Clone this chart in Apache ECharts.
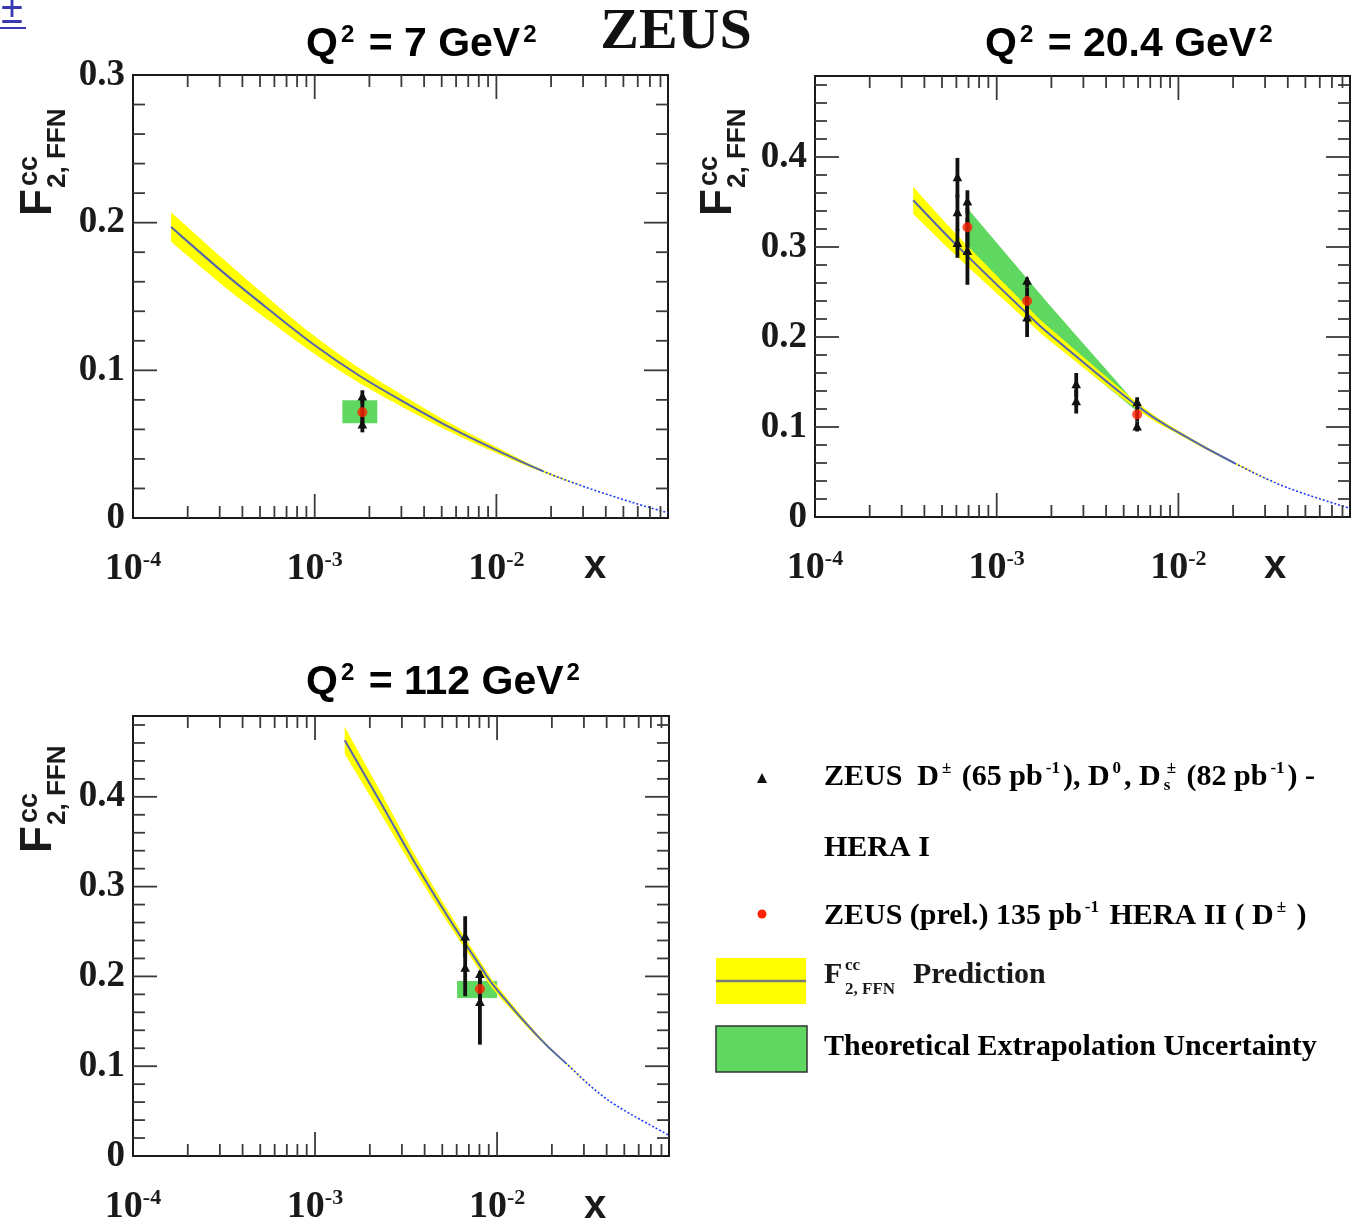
<!DOCTYPE html>
<html>
<head>
<meta charset="utf-8">
<script src="https://cdn.jsdelivr.net/npm/echarts@6/dist/echarts.min.js"></script>
<style>
html, body { margin: 0; padding: 0; background: #fff; }
#main { width: 1356px; height: 1226px; }
</style>
</head>
<body>
<div id="main"></div>
<script>
// shared x range and tick positions
var xMin = 1e-4;
var xMax = 0.088;
var xMajor = [1e-4, 1e-3, 1e-2];
var xMinorSteps = [2, 3, 4, 5, 6, 7, 8, 9];
var yMinorStep = 0.02;
var yMajorEvery = 5;

// Q2 = 7 GeV2 : prediction centre, half width of the yellow band
var p1X = [1.62e-4, 3.16e-4, 5.62e-4, 1.0e-3, 1.78e-3, 3.16e-3, 5.62e-3, 1.0e-2, 1.78e-2, 3.16e-2, 5.62e-2, 0.088];
var p1Y = [0.197, 0.166, 0.141, 0.117, 0.096, 0.078, 0.061, 0.046, 0.032, 0.0205, 0.0105, 0.0035];
var p1W = [0.010, 0.009, 0.0075, 0.006, 0.005, 0.004, 0.003, 0.002, 0.0008, 0, 0, 0];
var p1Box = [1.42e-3, 2.21e-3, 0.0642, 0.0797];
// [x, y, low, high]
var p1Hera1 = [[1.83e-3, 0.082, 0.0775, 0.0865], [1.83e-3, 0.063, 0.058, 0.068]];
var p1Hera2 = [[1.83e-3, 0.0716, 0.062, 0.082]];

// Q2 = 20.4 GeV2
var p2X = [3.47e-4, 6.08e-4, 1.47e-3, 2.04e-3, 5.93e-3, 1.01e-2, 2.03e-2, 3.93e-2, 0.088];
var p2Y = [0.352, 0.301, 0.226, 0.200, 0.1235, 0.0935, 0.060, 0.033, 0.0095];
var p2W = [0.015, 0.012, 0.008, 0.007, 0.004, 0.002, 0.001, 0, 0];
var p2GreenX = [6.9e-4, 1.87e-3, 2.62e-3, 5.8e-3];
var p2GreenLo = [0.298, 0.203, 0.176, 0.119];
var p2GreenHi = [0.343, 0.240, 0.206, 0.127];
var p2Hera1 = [
  [6.08e-4, 0.377, 0.355, 0.399], [6.08e-4, 0.338, 0.318, 0.358], [6.08e-4, 0.304, 0.288, 0.320],
  [6.9e-4, 0.350, 0.337, 0.363], [6.9e-4, 0.295, 0.258, 0.332],
  [1.47e-3, 0.262, 0.255, 0.266], [1.47e-3, 0.221, 0.200, 0.242],
  [2.74e-3, 0.147, 0.134, 0.160], [2.74e-3, 0.128, 0.115, 0.141],
  [5.93e-3, 0.127, 0.121, 0.133], [5.93e-3, 0.100, 0.095, 0.106]
];
var p2Hera2 = [[6.9e-4, 0.322, 0.300, 0.344], [1.47e-3, 0.240, 0.225, 0.255], [5.93e-3, 0.114, 0.106, 0.122]];

// Q2 = 112 GeV2
var p3X = [1.455e-3, 2.30e-3, 3.50e-3, 5.35e-3, 8.17e-3, 1.0e-2, 1.68e-2, 2.37e-2, 4.09e-2, 0.088];
var p3Y = [0.463, 0.393, 0.328, 0.267, 0.210, 0.185, 0.133, 0.104, 0.062, 0.023];
var p3W = [0.015, 0.012, 0.009, 0.007, 0.0055, 0.0045, 0.002, 0.001, 0, 0];
var p3Box = [6.03e-3, 1.0e-2, 0.176, 0.195];
var p3Hera1 = [[6.68e-3, 0.244, 0.221, 0.267], [6.68e-3, 0.209, 0.178, 0.240], [8.05e-3, 0.202, 0.190, 0.206], [8.05e-3, 0.171, 0.124, 0.190]];
var p3Hera2 = [[8.05e-3, 0.186, 0.170, 0.202]];

var yMaxes = [0.3, 0.49, 0.49];

var serif = 'Liberation Serif';
var sans = 'Liberation Sans';
var yellow = '#ffff00';
var green = '#5fd760';
var red = '#ff2200';

var chart = echarts.init(document.getElementById('main'));

// catmull-rom pieces (cubic beziers) through pixel points, one per gap
function splineSegs(pts) {
  var segs = [];
  for (var i = 0; i < pts.length - 1; i++) {
    var p0 = pts[i - 1] || pts[i], p1 = pts[i], p2 = pts[i + 1], p3 = pts[i + 2] || pts[i + 1];
    var c1 = [p1[0] + (p2[0] - p0[0]) / 6, p1[1] + (p2[1] - p0[1]) / 6];
    var c2 = [p2[0] - (p3[0] - p1[0]) / 6, p2[1] - (p3[1] - p1[1]) / 6];
    segs.push('C' + c1[0] + ',' + c1[1] + ' ' + c2[0] + ',' + c2[1] + ' ' + p2[0] + ',' + p2[1]);
  }
  return segs;
}
function pathPart(pts, segs, a, b, cmd) {
  return cmd + pts[a][0] + ',' + pts[a][1] + ' ' + segs.slice(a, b).join(' ');
}

function xAxisFor(i) {
  return {
    type: 'log', gridIndex: i, min: xMin, max: xMax, interval: 1, logBase: 10,
    axisLine: { show: false }, axisTick: { show: false }, splitLine: { show: false },
    axisLabel: {
      interval: 0, margin: 31, color: '#1a1a1a',
      fontFamily: serif, fontWeight: 'bold', fontSize: 38,
      formatter: function (v) {
        var l = Math.log10(v), e = Math.round(l);
        if (Math.abs(l - e) > 1e-6) return '';
        return '{b|10}{s|' + e + '}';
      },
      rich: {
        b: { fontFamily: serif, fontWeight: 'bold', fontSize: 38, lineHeight: 40, color: '#1a1a1a' },
        s: { fontFamily: serif, fontWeight: 'bold', fontSize: 22, lineHeight: 22, verticalAlign: 'top', color: '#1a1a1a' }
      }
    }
  };
}

function yAxisFor(i) {
  return {
    type: 'value', gridIndex: i, min: 0, max: yMaxes[i], interval: 0.1,
    axisLine: { show: false }, axisTick: { show: false }, splitLine: { show: false },
    axisLabel: {
      margin: 8, color: '#1a1a1a', fontFamily: serif, fontWeight: 'bold', fontSize: 37,
      formatter: function (v) {
        if (Math.abs(v * 10 - Math.round(v * 10)) > 1e-6) return '';
        return v === 0 ? '0' : v.toFixed(1);
      }
    }
  };
}

function tickSeries(i) {
  var yMax = yMaxes[i];
  return {
    type: 'custom', xAxisIndex: i, yAxisIndex: i, z: 10, silent: true, clip: false,
    data: [[xMajor[1], 0]],
    renderItem: function (params, api) {
      var cs = params.coordSys;
      var top = cs.y, bottom = cs.y + cs.height, left = cs.x, right = cs.x + cs.width;
      var kids = [];
      function seg(x1, y1, x2, y2) {
        kids.push({ type: 'line', shape: { x1: x1, y1: y1, x2: x2, y2: y2 }, style: { stroke: '#3a3a3a', lineWidth: 1.8 } });
      }
      xMajor.forEach(function (m) {
        var px = api.coord([m, 0])[0];
        if (px > left + 1) { seg(px, bottom, px, bottom - 24); seg(px, top, px, top + 24); }
        xMinorSteps.forEach(function (k) {
          var v = m * k;
          if (v >= xMax) return;
          var qx = api.coord([v, 0])[0];
          seg(qx, bottom, qx, bottom - 12); seg(qx, top, qx, top + 12);
        });
      });
      for (var j = 1; j * yMinorStep < yMax - 1e-9; j++) {
        var py = api.coord([xMin, j * yMinorStep])[1];
        var len = (j % yMajorEvery === 0) ? 24 : 12;
        seg(left, py, left + len, py); seg(right, py, right - len, py);
      }
      return { type: 'group', children: kids };
    }
  };
}

// yellow band plus the central prediction line
function predictionSeries(i, xs, ys, ws) {
  return {
    type: 'custom', xAxisIndex: i, yAxisIndex: i, z: 3, silent: true,
    data: [[xs[0], ys[0]]],
    renderItem: function (params, api) {
      var up = [], dn = [], mid = [];
      for (var j = 0; j < xs.length; j++) {
        up.push(api.coord([xs[j], ys[j] + ws[j]]));
        dn.unshift(api.coord([xs[j], ys[j] - ws[j]]));
        mid.push(api.coord([xs[j], ys[j]]));
      }
      var cut = 0;
      while (cut < ws.length - 1 && ws[cut] >= 0.0015) cut++;
      var n = xs.length - 1;
      var midSegs = splineSegs(mid);
      var band = pathPart(up, splineSegs(up), 0, n, 'M') + ' ' + pathPart(dn, splineSegs(dn), 0, n, 'L') + ' Z';
      return {
        type: 'group',
        children: [
          { type: 'path', shape: { pathData: band }, style: { fill: yellow, stroke: null } },
          { type: 'path', shape: { pathData: pathPart(mid, midSegs, 0, cut, 'M') }, style: { fill: null, stroke: '#5565b0', lineWidth: 2 } },
          { type: 'path', shape: { pathData: pathPart(mid, midSegs, cut, n, 'M') }, style: { fill: null, stroke: '#1f3cff', lineWidth: 1.6, lineDash: [2, 2] } }
        ]
      };
    }
  };
}

function boxSeries(i, box) {
  return {
    type: 'custom', xAxisIndex: i, yAxisIndex: i, z: 2, silent: true,
    data: [box],
    renderItem: function (params, api) {
      var a = api.coord([api.value(0), api.value(3)]);
      var b = api.coord([api.value(1), api.value(2)]);
      return { type: 'rect', shape: { x: a[0], y: a[1], width: b[0] - a[0], height: b[1] - a[1] }, style: { fill: green } };
    }
  };
}

function greenBandSeries(i, xs, lo, hi) {
  return {
    type: 'custom', xAxisIndex: i, yAxisIndex: i, z: 2, silent: true,
    data: [[xs[0], lo[0]]],
    renderItem: function (params, api) {
      var up = [], dn = [];
      for (var j = 0; j < xs.length; j++) {
        up.push(api.coord([xs[j], hi[j]]));
        dn.unshift(api.coord([xs[j], lo[j]]));
      }
      return { type: 'polygon', shape: { points: up.concat(dn) }, style: { fill: green } };
    }
  };
}

function errSeries(i, pts, withTriangle, z) {
  return {
    type: 'custom', xAxisIndex: i, yAxisIndex: i, z: z, silent: true,
    data: pts,
    renderItem: function (params, api) {
      var c = api.coord([api.value(0), api.value(1)]);
      var lo = api.coord([api.value(0), api.value(2)]);
      var hi = api.coord([api.value(0), api.value(3)]);
      var kids = [{ type: 'line', shape: { x1: c[0], y1: lo[1], x2: c[0], y2: hi[1] }, style: { stroke: '#111', lineWidth: 3.8 } }];
      if (withTriangle) {
        kids.push({ type: 'polygon', shape: { points: [[c[0], c[1] - 5.5], [c[0] - 4.8, c[1] + 3.5], [c[0] + 4.8, c[1] + 3.5]] }, style: { fill: '#111' } });
      }
      return { type: 'group', children: kids };
    }
  };
}

function redSeries(i, pts) {
  return {
    type: 'scatter', xAxisIndex: i, yAxisIndex: i, z: 6, silent: true,
    data: pts.map(function (p) { return [p[0], p[1]]; }),
    symbol: 'circle', symbolSize: 10, itemStyle: { color: red }
  };
}

var series = [];
series.push(boxSeries(0, p1Box), predictionSeries(0, p1X, p1Y, p1W));
series.push(errSeries(0, p1Hera2, false, 5), errSeries(0, p1Hera1, true, 5), redSeries(0, p1Hera2), tickSeries(0));

series.push(greenBandSeries(1, p2GreenX, p2GreenLo, p2GreenHi), predictionSeries(1, p2X, p2Y, p2W));
series.push(errSeries(1, p2Hera2, false, 5), errSeries(1, p2Hera1, true, 5), redSeries(1, p2Hera2), tickSeries(1));

series.push(boxSeries(2, p3Box), predictionSeries(2, p3X, p3Y, p3W));
series.push(errSeries(2, p3Hera2, false, 5), errSeries(2, p3Hera1, true, 5), redSeries(2, p3Hera2), tickSeries(2));

// titles, axis names, legend
var titleRich = {
  m: { fontFamily: sans, fontWeight: 'bold', fontSize: 41, lineHeight: 44, color: '#1a1a1a' },
  s: { fontFamily: sans, fontWeight: 'bold', fontSize: 24, lineHeight: 24, verticalAlign: 'top', color: '#1a1a1a', padding: [0, 3, 0, 3] }
};
function title(x, y, q) {
  return { type: 'text', x: x, y: y, style: { text: '{m|Q}{s|2}{m| = ' + q + ' GeV}{s|2}', rich: titleRich, align: 'left', verticalAlign: 'middle' } };
}
function yName(dx, dy) {
  var st = { fontFamily: sans, fontWeight: 'bold', fill: '#1a1a1a', align: 'left', verticalAlign: 'middle' };
  return [
    { type: 'text', x: 39 + dx, y: 216 + dy, rotation: Math.PI / 2, style: Object.assign({ text: 'F', fontSize: 44 }, st) },
    { type: 'text', x: 30 + dx, y: 186 + dy, rotation: Math.PI / 2, style: Object.assign({ text: 'cc', fontSize: 27 }, st) },
    { type: 'text', x: 58 + dx, y: 188 + dy, rotation: Math.PI / 2, style: Object.assign({ text: '2, FFN', fontSize: 26 }, st) }
  ];
}
function xName(x, y) {
  return { type: 'text', x: x, y: y, style: { text: 'x', fontFamily: sans, fontWeight: 'bold', fontSize: 40, fill: '#1a1a1a', align: 'center', verticalAlign: 'middle' } };
}

var legRich = {
  t: { fontFamily: serif, fontWeight: 'bold', fontSize: 30, lineHeight: 34, color: '#1a1a1a' },
  p: { fontFamily: serif, fontWeight: 'bold', fontSize: 17, lineHeight: 17, verticalAlign: 'top', color: '#1a1a1a', padding: [0, 3, 0, 3] },
  d: { fontFamily: serif, fontWeight: 'bold', fontSize: 17, lineHeight: 17, verticalAlign: 'bottom', color: '#1a1a1a', width: 0, padding: [0, 0, 0, 3] }
};
function legText(y, text) {
  return { type: 'text', x: 824, y: y, style: { text: text, rich: legRich, align: 'left', verticalAlign: 'middle' } };
}
var legSt = { fontFamily: serif, fontWeight: 'bold', fill: '#1a1a1a', align: 'left', verticalAlign: 'middle' };

var graphics = [
  { type: 'text', x: 12, y: 12, style: { text: '±', fontFamily: sans, fontSize: 40, fill: '#3a3ab4', align: 'center', verticalAlign: 'middle' } },
  { type: 'line', shape: { x1: 0, y1: 28, x2: 26, y2: 28 }, style: { stroke: '#3a3ab4', lineWidth: 2 } },
  { type: 'text', x: 676, y: 33, style: { text: 'ZEUS', fontFamily: serif, fontWeight: 'bold', fontSize: 58, fill: '#111', align: 'center', verticalAlign: 'middle' } },
  title(306, 45, '7'), title(985, 45, '20.4'), title(306, 683, '112'),
  xName(595, 567), xName(1275, 567), xName(595, 1207),
  // legend
  { type: 'polygon', shape: { points: [[762, 773], [757, 783], [767, 783]] }, style: { fill: '#111' } },
  legText(777, '{t|ZEUS  D}{p|±}{t| (65 pb}{p|-1}{t|), D}{p|0}{t|, D}{d|s}{p|±}{t| (82 pb}{p|-1}{t|) -}'),
  legText(848, '{t|HERA I}'),
  { type: 'circle', shape: { cx: 762, cy: 914, r: 4.5 }, style: { fill: red } },
  legText(916, '{t|ZEUS (prel.) 135 pb}{p|-1}{t| HERA II ( D}{p|±}{t| )}'),
  { type: 'rect', shape: { x: 716, y: 958, width: 90, height: 46 }, style: { fill: yellow } },
  { type: 'line', shape: { x1: 716, y1: 981, x2: 806, y2: 981 }, style: { stroke: '#7a7a7a', lineWidth: 2.5 } },
  { type: 'text', x: 824, y: 975, style: Object.assign({ text: 'F', fontSize: 30 }, legSt) },
  { type: 'text', x: 845, y: 966, style: Object.assign({ text: 'cc', fontSize: 17 }, legSt) },
  { type: 'text', x: 845, y: 990, style: Object.assign({ text: '2, FFN', fontSize: 17 }, legSt) },
  { type: 'text', x: 913, y: 975, style: Object.assign({ text: 'Prediction', fontSize: 30 }, legSt) },
  { type: 'rect', shape: { x: 716, y: 1026, width: 91, height: 46 }, style: { fill: green, stroke: '#333', lineWidth: 1.5 } },
  legText(1047, '{t|Theoretical Extrapolation Uncertainty}')
].concat(yName(0, 0), yName(680, 0), yName(0, 637));

var option = {
  animation: false,
  backgroundColor: '#fff',
  grid: [
    { left: 133, top: 75, width: 535, height: 443, show: true, borderColor: '#1a1a1a', borderWidth: 2 },
    { left: 815, top: 76, width: 535, height: 441, show: true, borderColor: '#1a1a1a', borderWidth: 2 },
    { left: 133, top: 716, width: 536, height: 441, show: true, borderColor: '#1a1a1a', borderWidth: 2 }
  ],
  xAxis: [xAxisFor(0), xAxisFor(1), xAxisFor(2)],
  yAxis: [yAxisFor(0), yAxisFor(1), yAxisFor(2)],
  series: series,
  graphic: graphics
};

chart.setOption(option);
</script>
</body>
</html>
